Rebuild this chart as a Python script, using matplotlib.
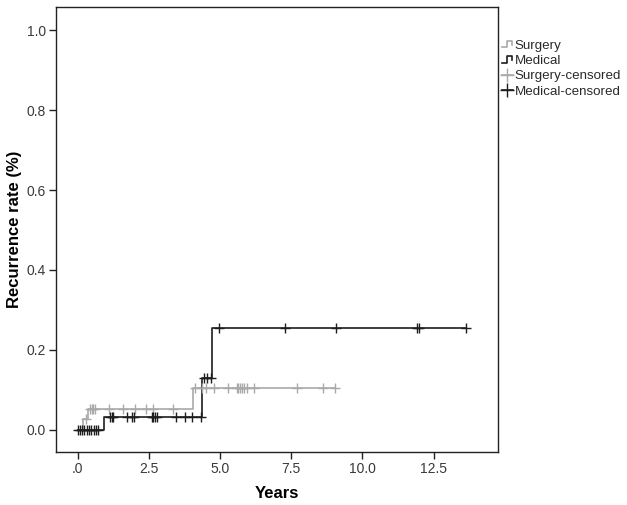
import numpy as np
import matplotlib
matplotlib.use('Agg')
import matplotlib.pyplot as plt
from matplotlib.lines import Line2D
from matplotlib.legend_handler import HandlerBase

plt.rcParams['font.family'] = ['Liberation Sans', 'DejaVu Sans']

# step curves (time in years, cumulative recurrence)
surgery_t = [0.0, 0.20, 0.35, 4.06, 9.05]
surgery_y = [0.0, 0.026, 0.052, 0.105, 0.105]
medical_t = [0.0, 0.93, 4.37, 4.73, 13.62]
medical_y = [0.0, 0.033, 0.131, 0.255, 0.255]

# censored times
surgery_cens = [0.28, 0.43, 0.49, 0.55, 0.61, 1.11, 1.60, 2.01, 2.40, 2.65, 3.36,
                4.12, 4.35, 4.49, 4.80, 5.28, 5.58, 5.64, 5.70, 5.77, 5.84, 5.95,
                6.18, 7.69, 8.61, 9.03]
medical_cens = [0.0, 0.08, 0.16, 0.24, 0.32, 0.40, 0.48, 0.56, 0.64, 0.72,
                1.13, 1.19, 1.25, 1.72, 1.90, 1.98, 2.60, 2.65, 2.71, 2.77,
                3.45, 3.77, 4.00, 4.32, 4.43, 4.55, 4.67,
                4.97, 7.29, 9.07, 11.93, 11.97, 13.62]

x_ticks = [0, 2.5, 5.0, 7.5, 10.0, 12.5]
x_labels = ['.0', '2.5', '5.0', '7.5', '10.0', '12.5']
y_ticks = [0.0, 0.2, 0.4, 0.6, 0.8, 1.0]

gray = '#a9a9a9'
dark = '#1e1e1e'


def level_at(ts, ys, t):
    i = np.searchsorted(ts, t, side='right') - 1
    return np.asarray(ys)[np.clip(i, 0, len(ys) - 1)]


class StepHandler(HandlerBase):
    def create_artists(self, legend, orig, xd, yd, w, h, fontsize, trans):
        xs = [xd, xd + 0.45 * w, xd + 0.45 * w, xd + 0.9 * w, xd + 0.9 * w]
        ys = [yd + 0.15 * h, yd + 0.15 * h, yd + 0.85 * h, yd + 0.85 * h, yd + 0.45 * h]
        ln = Line2D(xs, ys, color=orig.get_color(), lw=orig.get_linewidth(),
                    transform=trans)
        return [ln]


fig = plt.figure(figsize=(6.27, 5.05), dpi=100)
ax = fig.add_axes([0.0888, 0.1044, 0.7055, 0.8811])

ax.step(surgery_t, surgery_y, where='post', color=gray, lw=1.2)
ax.step(medical_t, medical_y, where='post', color=dark, lw=1.2)

sc = np.array(surgery_cens)
mc = np.array(medical_cens)
ax.plot(sc, level_at(surgery_t, surgery_y, sc), '+', color=gray, ms=7, mew=1)
ax.plot(mc, level_at(medical_t, medical_y, mc), '+', color=dark, ms=7, mew=1)

ax.set_xlim(-0.77, 14.76)
ax.set_ylim(-0.056, 1.057)
ax.set_xticks(x_ticks)
ax.set_xticklabels(x_labels)
ax.set_yticks(y_ticks)
ax.set_yticklabels(['%.1f' % v for v in y_ticks])
ax.tick_params(direction='out', length=5, width=1, colors='#222222',
               labelsize=10, labelcolor='#3a3a3a', pad=2)
for s in ax.spines.values():
    s.set_linewidth(1)
    s.set_color('#222222')

ax.set_xlabel('Years', fontsize=12, fontweight='bold')
ax.xaxis.set_label_coords(0.5, -0.075)
ax.set_ylabel('Recurrence rate (%)', fontsize=12, fontweight='bold')
ax.yaxis.set_label_coords(-0.077, 0.5)

h1 = Line2D([], [], color=gray, lw=1.2)
h2 = Line2D([], [], color=dark, lw=1.2)
h3 = Line2D([], [], color=gray, lw=1.2, marker='+', ms=10, mew=1)
h4 = Line2D([], [], color=dark, lw=1.2, marker='+', ms=10, mew=1)
leg = fig.legend([h1, h2, h3, h4],
                 ['Surgery', 'Medical', 'Surgery-censored', 'Medical-censored'],
                 handler_map={h1: StepHandler(), h2: StepHandler()},
                 loc='upper left', bbox_to_anchor=(0.800, 0.922),
                 frameon=False, fontsize=9.6, handlelength=0.85, handletextpad=0.15,
                 labelspacing=0.22, borderaxespad=0, borderpad=0,
                 labelcolor='#2a2a2a')

fig.savefig('out.png', dpi=100)
